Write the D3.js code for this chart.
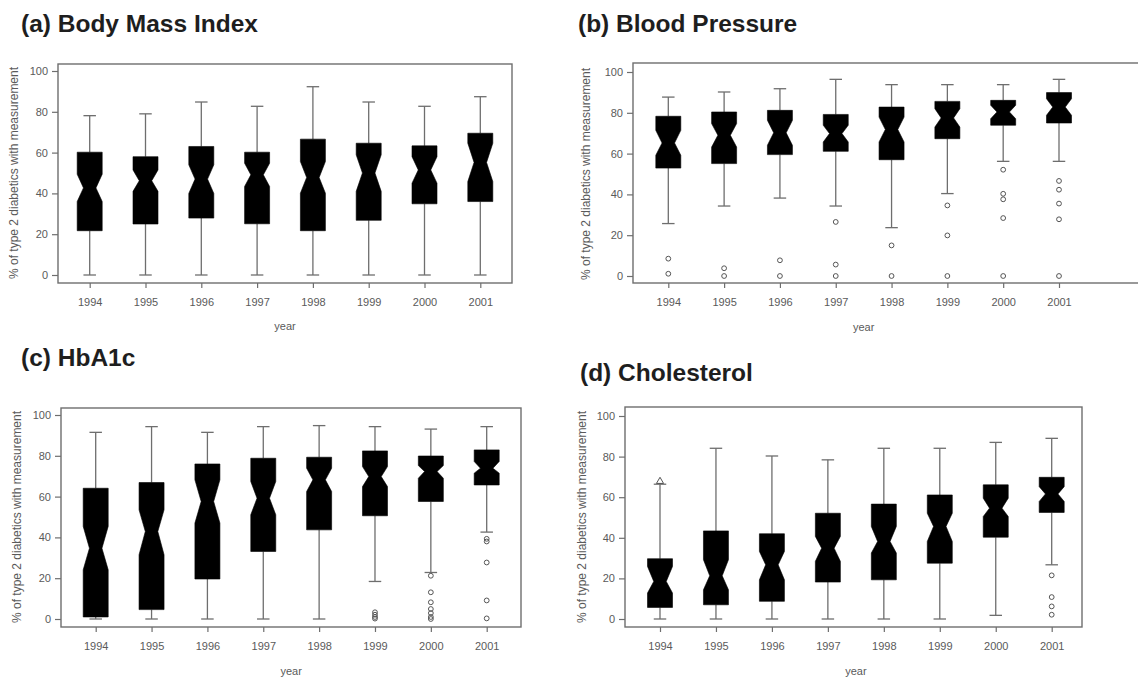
<!DOCTYPE html>
<html>
<head>
<meta charset="utf-8">
<script src="https://cdn.jsdelivr.net/npm/d3@7"></script>
<style>
  html, body { margin: 0; padding: 0; background: #fff; }
  svg { display: block; }
  .tick text { font-family: "Liberation Sans", Arial, sans-serif; fill: #5a5a5a; }
</style>
</head>
<body>
<svg id="chart" width="1138" height="679"></svg>
<script>
// ---------- data ----------
const years = [1994, 1995, 1996, 1997, 1998, 1999, 2000, 2001];
const yTicks = [0, 20, 40, 60, 80, 100];

// (a) Body Mass Index
const bmiHi    = [78.1, 79.0, 84.8, 82.7, 92.3, 84.8, 82.7, 87.4];
const bmiQ3    = [60.2, 58.0, 63.0, 60.2, 66.6, 64.6, 63.3, 69.5];
const bmiNHi   = [49.4, 51.5, 54.0, 54.8, 55.6, 58.9, 58.0, 64.6];
const bmiMed   = [42.7, 46.2, 47.0, 49.1, 47.8, 50.0, 51.5, 55.2];
const bmiNLo   = [36.0, 41.0, 40.0, 43.4, 40.1, 41.0, 45.0, 45.8];
const bmiQ1    = [21.7, 25.0, 27.9, 25.1, 21.7, 26.8, 34.9, 36.0];
const bmiLo    = [0, 0, 0, 0, 0, 0, 0, 0];
const bmiOut   = [[], [], [], [], [], [], [], []];

// (b) Blood Pressure
const bpHi     = [87.7, 90.2, 91.8, 96.4, 93.8, 93.8, 93.8, 96.4];
const bpQ3     = [78.3, 80.4, 81.2, 79.2, 82.8, 85.6, 86.1, 89.9];
const bpNHi    = [71.4, 74.7, 76.3, 73.9, 77.9, 82.0, 83.7, 86.9];
const bpMed    = [65.2, 69.0, 70.2, 69.8, 71.8, 77.5, 80.4, 82.8];
const bpNLo    = [59.2, 63.2, 64.1, 65.7, 65.7, 73.0, 77.1, 78.8];
const bpQ1     = [52.9, 55.1, 59.5, 61.1, 57.0, 67.3, 73.9, 75.0];
const bpLo     = [25.7, 34.3, 38.2, 34.3, 23.7, 40.4, 56.2, 56.2];
const bpOut    = [[8.5, 1.1], [3.8, 0], [7.7, 0], [26.5, 5.6, 0], [15.0, 0],
                  [34.6, 19.9, 0], [52.1, 40.3, 37.6, 28.4, 0], [46.6, 42.3, 35.5, 27.8, 0]];

// (c) HbA1c
const hbHi     = [91.5, 94.3, 91.5, 94.3, 94.8, 94.3, 93.1, 94.3];
const hbQ3     = [64.1, 66.9, 76.0, 78.8, 79.3, 82.4, 79.9, 82.9];
const hbNHi    = [45.4, 53.5, 68.2, 67.4, 73.9, 74.7, 75.2, 77.2];
const hbMed    = [34.7, 42.9, 57.6, 59.2, 68.2, 69.8, 72.3, 73.9];
const hbNLo    = [24.1, 31.5, 47.0, 51.1, 62.5, 64.9, 69.0, 71.5];
const hbQ1     = [1.0, 4.6, 19.6, 33.1, 43.7, 50.6, 57.6, 65.7];
const hbLo     = [0, 0, 0, 0, 0, 18.4, 22.8, 42.6];
const hbOut    = [[], [], [], [], [], [3.3, 2.1, 1.0, 0.2],
                  [21.2, 13.1, 8.2, 4.9, 2.9, 1.0, 0], [39.3, 38.0, 27.7, 9.1, 0.3]];

// (d) Cholesterol
const chHi     = [66.4, 84.1, 80.3, 78.4, 84.1, 84.1, 87.0, 89.0];
const chQ3     = [29.7, 43.4, 42.0, 52.1, 56.6, 61.1, 66.1, 69.8];
const chNHi    = [25.9, 29.2, 33.3, 40.7, 45.6, 52.1, 59.5, 65.2];
const chMed    = [18.5, 21.3, 26.7, 34.9, 38.2, 45.6, 54.6, 61.6];
const chNLo    = [12.8, 14.4, 19.3, 28.4, 32.5, 38.2, 50.5, 57.9];
const chQ1     = [5.7, 7.0, 8.7, 18.2, 19.3, 27.5, 40.3, 52.5];
const chLo     = [0, 0, 0, 0, 0, 0, 1.8, 26.7];
const chOut    = [[], [], [], [], [], [], [], [21.5, 10.8, 6.2, 2.1]];
const chTriangle = [[67.8], [], [], [], [], [], [], []];

const titles = ["(a) Body Mass Index", "(b) Blood Pressure", "(c) HbA1c", "(d) Cholesterol"];
const yAxisTitle = "% of type 2 diabetics with measurement";
const xAxisTitle = "year";

// ---------- layout ----------
const panels = [
  { title: titles[0], tx: 21, ty: 32, box: {l: 58, r: 512, t: 64, b: 283}, xr: [89.7, 480.3], yr: [275, 71], ylx: 14, yly: 173, yearY: 330,
    hi: bmiHi, q3: bmiQ3, nhi: bmiNHi, med: bmiMed, nlo: bmiNLo, q1: bmiQ1, lo: bmiLo, out: bmiOut, tri: null },
  { title: titles[1], tx: 578, ty: 32, box: {l: 633, r: 1145, t: 63, b: 283}, xr: [668.3, 1059], yr: [276, 72], ylx: 586, yly: 174, yearY: 331,
    hi: bpHi, q3: bpQ3, nhi: bpNHi, med: bpMed, nlo: bpNLo, q1: bpQ1, lo: bpLo, out: bpOut, tri: null },
  { title: titles[2], tx: 21, ty: 366, box: {l: 61, r: 521, t: 408, b: 627}, xr: [95.7, 486.7], yr: [619, 415], ylx: 17, yly: 517, yearY: 675,
    hi: hbHi, q3: hbQ3, nhi: hbNHi, med: hbMed, nlo: hbNLo, q1: hbQ1, lo: hbLo, out: hbOut, tri: null },
  { title: titles[3], tx: 580, ty: 381, box: {l: 625, r: 1082, t: 407, b: 627}, xr: [660, 1051.7], yr: [619, 416], ylx: 582, yly: 517, yearY: 675,
    hi: chHi, q3: chQ3, nhi: chNHi, med: chMed, nlo: chNLo, q1: chQ1, lo: chLo, out: chOut, tri: chTriangle }
];

const svg = d3.select("#chart");
const GRAY = "#6e6e6e";
const boxW = 25;

panels.forEach(p => {
  const g = svg.append("g");
  const x = d3.scalePoint().domain(years).range(p.xr);
  const y = d3.scaleLinear().domain([0, 100]).range(p.yr);

  // title
  g.append("text").attr("x", p.tx).attr("y", p.ty)
    .attr("font-family", "Liberation Sans, Arial, sans-serif")
    .attr("font-weight", "bold").attr("font-size", 24.5).attr("fill", "#1e1e1e")
    .text(p.title);

  // frame
  g.append("rect").attr("x", p.box.l).attr("y", p.box.t)
    .attr("width", p.box.r - p.box.l).attr("height", p.box.b - p.box.t)
    .attr("fill", "none").attr("stroke", GRAY).attr("stroke-width", 1.4);

  // y axis
  const ya = g.append("g").attr("transform", `translate(${p.box.l},0)`)
    .call(d3.axisLeft(y).tickValues(yTicks).tickSize(6).tickSizeOuter(0).tickPadding(4));
  ya.select(".domain").remove();
  ya.selectAll(".tick line").attr("stroke", GRAY).attr("stroke-width", 1.2);
  ya.selectAll(".tick text").attr("font-size", 11).attr("fill", "#5a5a5a");

  // x axis
  const xa = g.append("g").attr("transform", `translate(0,${p.box.b})`)
    .call(d3.axisBottom(x).tickSize(5).tickSizeOuter(0).tickPadding(10));
  xa.select(".domain").remove();
  xa.selectAll(".tick line").attr("stroke", GRAY).attr("stroke-width", 1.2);
  xa.selectAll(".tick text").attr("font-size", 11).attr("fill", "#5a5a5a");

  // axis titles
  g.append("text").attr("transform", `translate(${p.ylx},${p.yly}) rotate(-90)`)
    .attr("text-anchor", "middle").attr("dominant-baseline", "central")
    .attr("font-family", "Liberation Sans, Arial, sans-serif")
    .attr("font-size", 12).attr("fill", "#5a5a5a").text(yAxisTitle);
  g.append("text").attr("x", (p.xr[0] + p.xr[1]) / 2).attr("y", p.yearY)
    .attr("text-anchor", "middle")
    .attr("font-family", "Liberation Sans, Arial, sans-serif")
    .attr("font-size", 11).attr("fill", "#5a5a5a").text(xAxisTitle);

  // boxes
  years.forEach((yr, i) => {
    const cx = x(yr);
    const w = boxW / 2;
    // whiskers
    g.append("line").attr("x1", cx).attr("x2", cx).attr("y1", y(p.hi[i])).attr("y2", y(p.q3[i]))
      .attr("stroke", GRAY).attr("stroke-width", 1.3);
    g.append("line").attr("x1", cx).attr("x2", cx).attr("y1", y(p.lo[i])).attr("y2", y(p.q1[i]))
      .attr("stroke", GRAY).attr("stroke-width", 1.3);
    [p.hi[i], p.lo[i]].forEach(v => {
      g.append("line").attr("x1", cx - w / 2).attr("x2", cx + w / 2).attr("y1", y(v)).attr("y2", y(v))
        .attr("stroke", GRAY).attr("stroke-width", 1.3);
    });
    // notched box
    const pts = [
      [cx - w, y(p.q1[i])], [cx - w, y(p.nlo[i])], [cx - w / 2, y(p.med[i])], [cx - w, y(p.nhi[i])],
      [cx - w, y(p.q3[i])], [cx + w, y(p.q3[i])], [cx + w, y(p.nhi[i])], [cx + w / 2, y(p.med[i])],
      [cx + w, y(p.nlo[i])], [cx + w, y(p.q1[i])]
    ];
    g.append("path").attr("d", d3.line()(pts) + "Z").attr("fill", "#000").attr("stroke", "#000").attr("stroke-width", 0.6);
    // outliers
    p.out[i].forEach(v => {
      g.append("circle").attr("cx", cx).attr("cy", y(v)).attr("r", 2.4)
        .attr("fill", "none").attr("stroke", "#555").attr("stroke-width", 1);
    });
    if (p.tri) {
      p.tri[i].forEach(v => {
        g.append("path").attr("transform", `translate(${cx},${y(v)})`)
          .attr("d", d3.symbol().type(d3.symbolTriangle).size(22)())
          .attr("fill", "none").attr("stroke", "#555").attr("stroke-width", 1);
      });
    }
  });
});
</script>
</body>
</html>
